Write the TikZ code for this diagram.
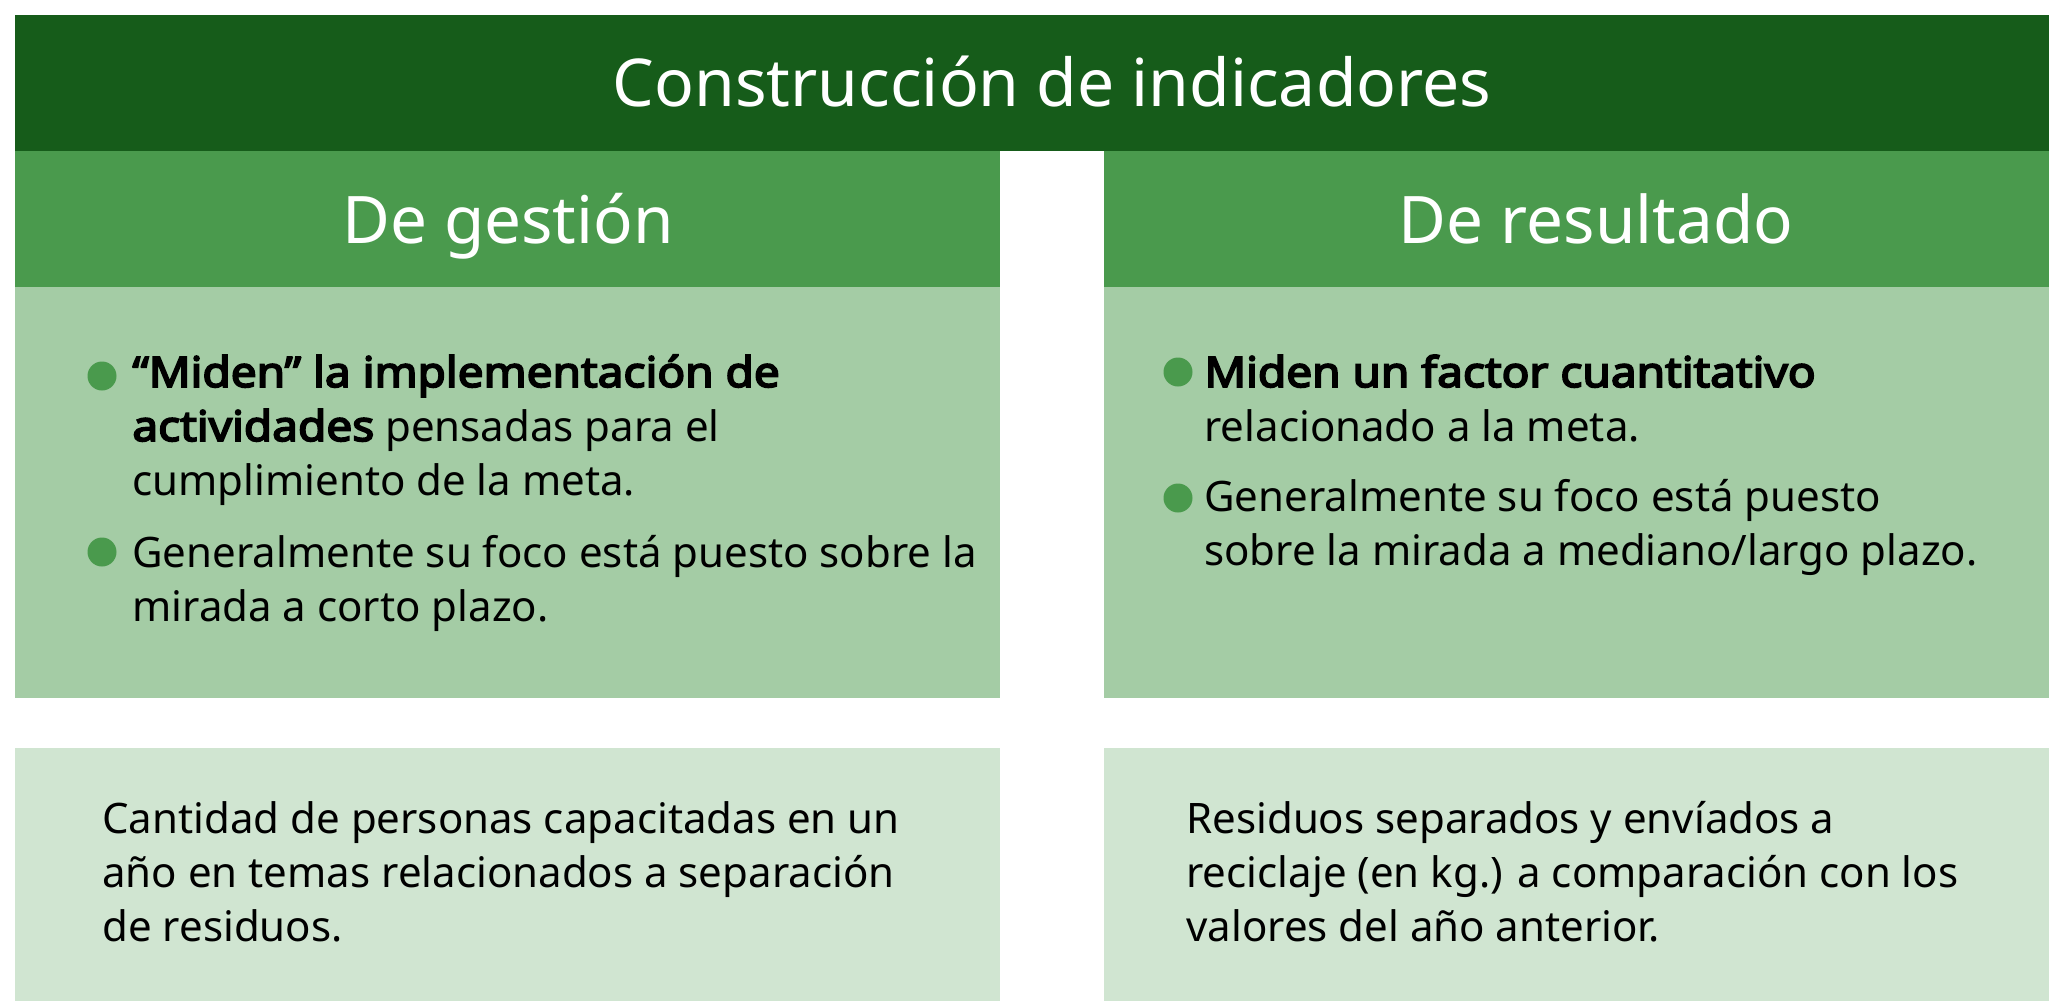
\documentclass[tikz,border=0pt]{standalone}
\usepackage{fontspec}
\setmainfont{Noto Sans}[BoldFont={Noto Sans}, BoldFeatures={FakeBold=4.2, FakeStretch=1.095}]
\definecolor{dkgreen}{HTML}{165C1A}
\definecolor{midgreen}{HTML}{4A9A4D}
\definecolor{ltgreen}{HTML}{A4CCA5}
\definecolor{palegreen}{HTML}{D0E5D1}
\newcommand\bodyfnt{\fontsize{21}{27}\selectfont}
\tikzset{
  titletext/.style={anchor=base, inner sep=0, text=white, font=\fontsize{33}{40}\selectfont},
  headtext/.style={anchor=base, inner sep=0, text=white, font=\fontsize{32.8}{40}\selectfont},
  bodytext/.style={anchor=base west, inner sep=0, text=black, font=\bodyfnt},
  bulletdot/.style={circle, fill=midgreen, inner sep=0, minimum size=14.5pt},
}
\begin{document}
\begin{tikzpicture}[x=0.5pt,y=-0.5pt]
\useasboundingbox (0,0) rectangle (2049,1001);
\fill[white] (0,0) rectangle (2049,1001);
% boxes
\fill[dkgreen] (15,15) rectangle (2049,151);
\fill[midgreen] (15,151) rectangle (1000,287);
\fill[midgreen] (1104,151) rectangle (2049,287);
\fill[ltgreen] (15,287) rectangle (1000,698);
\fill[ltgreen] (1104,287) rectangle (2049,698);
\fill[palegreen] (15,748) rectangle (1000,1001);
\fill[palegreen] (1104,748) rectangle (2049,1001);
% titles
\node[titletext] (title) at (1052,106) {Construcción de indicadores};
\node[headtext] (hgest) at (508,243) {De gestión};
\node[headtext] (hres) at (1596,243) {De resultado};
% left bullets
\node[bulletdot] (lb1) at (102,376) {};
\node[bodytext] (lt1) at (132,387) {\parbox[t]{460pt}{\bodyfnt\textbf{“Miden” la implementación de}\\\textbf{actividades} pensadas para el\\cumplimiento de la meta.}};
\node[bulletdot] (lb2) at (102,552) {};
\node[bodytext] (lt2) at (132,567) {\parbox[t]{460pt}{\bodyfnt Generalmente su foco está puesto sobre la\\mirada a corto plazo.}};
% right bullets
\node[bulletdot] (rb1) at (1178,372) {};
\node[bodytext] (rt1) at (1204,387) {\parbox[t]{460pt}{\bodyfnt\textbf{Miden un factor cuantitativo}\\relacionado a la meta.}};
\node[bulletdot] (rb2) at (1178,498) {};
\node[bodytext] (rt2) at (1204,511) {\parbox[t]{460pt}{\bodyfnt Generalmente su foco está puesto\\sobre la mirada a mediano/largo plazo.}};
% examples
\node[bodytext] (ex1) at (102,833) {\parbox[t]{460pt}{\bodyfnt Cantidad de personas capacitadas en un\\año en temas relacionados a separación\\de residuos.}};
\node[bodytext] (ex2) at (1186,833) {\parbox[t]{460pt}{\bodyfnt Residuos separados y envíados a\\reciclaje (en kg.) a comparación con los\\valores del año anterior.}};
\end{tikzpicture}
\end{document}
